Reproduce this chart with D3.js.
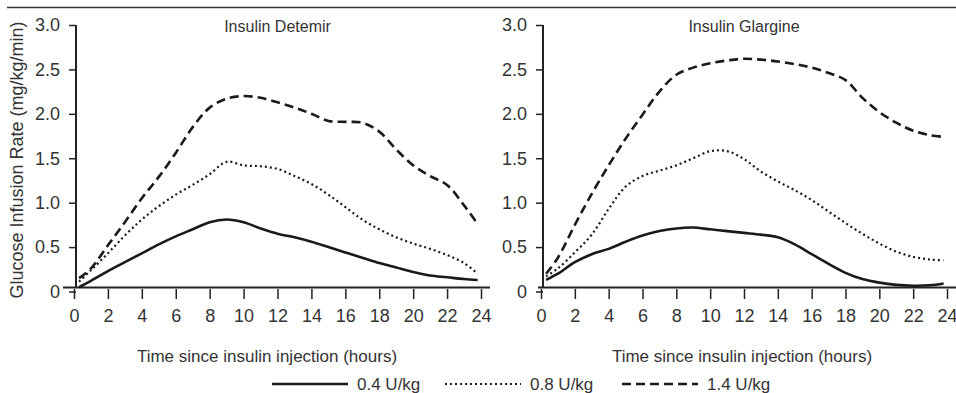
<!DOCTYPE html>
<html>
<head>
<meta charset="utf-8">
<script src="https://cdn.jsdelivr.net/npm/d3@7"></script>
<style>
	body { margin: 0; background: #fff; }
	svg text { font-family: "Liberation Sans", Arial, sans-serif; fill: #333; }
	.axis path { display: none; }
	.axis line { stroke: #222; stroke-width: 1.5; }
	.axis text { font-size: 18px; }
</style>
</head>
<body>
<div class="gir"></div>
<script>

// hours after injection (same sample points for every curve)
const hours = [0.3, 1, 2, 3, 4, 5, 6, 7, 8, 9, 10, 11, 12, 13, 14, 15, 16, 17, 18, 19, 20, 21, 22, 23, 23.8];

// glucose infusion rate (mg/kg/min), insulin detemir
const detemir04 = [0.05, 0.12, 0.23, 0.33, 0.43, 0.53, 0.62, 0.7, 0.78, 0.81, 0.78, 0.71, 0.65, 0.61, 0.56, 0.5, 0.44, 0.38, 0.32, 0.27, 0.22, 0.18, 0.16, 0.14, 0.13];
const detemir08 = [0.11, 0.24, 0.43, 0.63, 0.81, 0.96, 1.09, 1.2, 1.32, 1.46, 1.42, 1.41, 1.38, 1.3, 1.21, 1.09, 0.95, 0.81, 0.7, 0.61, 0.54, 0.48, 0.41, 0.32, 0.2];
const detemir14 = [0.15, 0.26, 0.52, 0.78, 1.05, 1.29, 1.56, 1.85, 2.07, 2.17, 2.2, 2.18, 2.13, 2.07, 2.0, 1.92, 1.91, 1.9, 1.8, 1.6, 1.42, 1.3, 1.2, 0.97, 0.76];

// insulin glargine
const glargine04 = [0.13, 0.2, 0.33, 0.42, 0.48, 0.56, 0.63, 0.68, 0.71, 0.72, 0.7, 0.68, 0.66, 0.64, 0.61, 0.53, 0.42, 0.31, 0.21, 0.14, 0.1, 0.075, 0.065, 0.07, 0.09];
const glargine08 = [0.17, 0.26, 0.44, 0.64, 0.93, 1.18, 1.3, 1.36, 1.42, 1.5, 1.58, 1.58, 1.49, 1.35, 1.24, 1.14, 1.03, 0.9, 0.77, 0.65, 0.54, 0.45, 0.39, 0.36, 0.35];
const glargine14 = [0.2, 0.38, 0.75, 1.1, 1.42, 1.72, 1.99, 2.25, 2.44, 2.52, 2.57, 2.6, 2.62, 2.61, 2.59, 2.56, 2.52, 2.46, 2.38, 2.18, 2.02, 1.9, 1.81, 1.76, 1.74];

const doses = ["0.4 U/kg", "0.8 U/kg", "1.4 U/kg"];
const panels = ["Insulin Detemir", "Insulin Glargine"];
const xTicks = [0, 2, 4, 6, 8, 10, 12, 14, 16, 18, 20, 22, 24];
const yTicks = [0, 0.5, 1.0, 1.5, 2.0, 2.5, 3.0];

const width = 956;
const height = 393;

const lineStyles = {
	"0.4 U/kg": { dash: null, width: 2.6 },
	"0.8 U/kg": { dash: "2,3", width: 2.2 },
	"1.4 U/kg": { dash: "9,5", width: 2.6 }
};

const svg = d3.select(".gir")
	.append("svg")
		.attr("width", width)
		.attr("height", height);

// rule under the (cropped) figure heading
svg.append("line")
	.attr("x1", 7).attr("x2", width)
	.attr("y1", 7.5).attr("y2", 7.5)
	.attr("stroke", "#333")
	.attr("stroke-width", 1.5);

const y = d3.scaleLinear().domain([0, 3]).range([291.5, 25]);

const line = (x) => d3.line()
	.x((d) => x(d.t))
	.y((d) => y(d.v))
	.curve(d3.curveCatmullRom.alpha(0.5));

function drawPanel(name, x0, x1, lineStart, lineEnd, seriesValues, titleX) {
	const x = d3.scaleLinear().domain([0, 24]).range([x0, x1]);
	const g = svg.append("g").attr("class", "panel");

	// x axis line
	g.append("line")
		.attr("x1", lineStart).attr("x2", lineEnd)
		.attr("y1", 287.5).attr("y2", 287.5)
		.attr("stroke", "#222")
		.attr("stroke-width", 2);

	// y axis line
	g.append("line")
		.attr("x1", x0 + 2).attr("x2", x0 + 2)
		.attr("y1", y(3)).attr("y2", 288)
		.attr("stroke", "#222")
		.attr("stroke-width", 2);

	g.append("g")
		.attr("class", "axis")
		.attr("transform", "translate(0,289)")
		.call(d3.axisBottom(x).tickValues(xTicks).tickSize(10).tickPadding(10));

	g.append("g")
		.attr("class", "axis")
		.attr("transform", `translate(${x0 + 2},0)`)
		.call(d3.axisLeft(y).tickValues(yTicks).tickSize(7).tickPadding(9)
			.tickFormat((d) => d === 0 ? "0" : d3.format(".1f")(d)));

	g.append("text")
		.attr("x", (x0 + x1) / 2)
		.attr("y", 32)
		.attr("text-anchor", "middle")
		.style("font-size", "16px")
		.text(name);

	g.append("text")
		.attr("x", titleX)
		.attr("y", 362)
		.attr("text-anchor", "middle")
		.style("font-size", "17px")
		.text("Time since insulin injection (hours)");

	doses.forEach((dose, i) => {
		const pts = hours.map((t, j) => ({ t: t, v: seriesValues[i][j] }));
		const s = lineStyles[dose];
		g.append("path")
			.datum(pts)
			.attr("fill", "none")
			.attr("stroke", "#1a1a1a")
			.attr("stroke-width", s.width)
			.attr("stroke-dasharray", s.dash)
			.attr("d", line(x));
	});
}

drawPanel(panels[0], 74, 481, 63, 490, [detemir04, detemir08, detemir14], 267);
drawPanel(panels[1], 541, 947, 538, 956, [glargine04, glargine08, glargine14], 742);

// y axis title
svg.append("text")
	.attr("transform", "translate(23,160) rotate(-90)")
	.attr("text-anchor", "middle")
	.style("font-size", "18px")
	.text("Glucose Infusion Rate (mg/kg/min)");

// legend
const legendX = [272, 445, 622];
const legend = svg.append("g")
	.selectAll(".key")
		.data(doses).enter()
	.append("g")
		.attr("class", "key")
		.attr("transform", (d, i) => `translate(${legendX[i]},384)`);

legend.append("line")
	.attr("x1", 0).attr("x2", 76)
	.attr("stroke", "#1a1a1a")
	.attr("stroke-width", (d) => lineStyles[d].width)
	.attr("stroke-dasharray", (d) => lineStyles[d].dash);

legend.append("text")
	.attr("x", 85)
	.attr("y", 6)
	.style("font-size", "17px")
	.text((d) => d);

</script>
</body>
</html>
